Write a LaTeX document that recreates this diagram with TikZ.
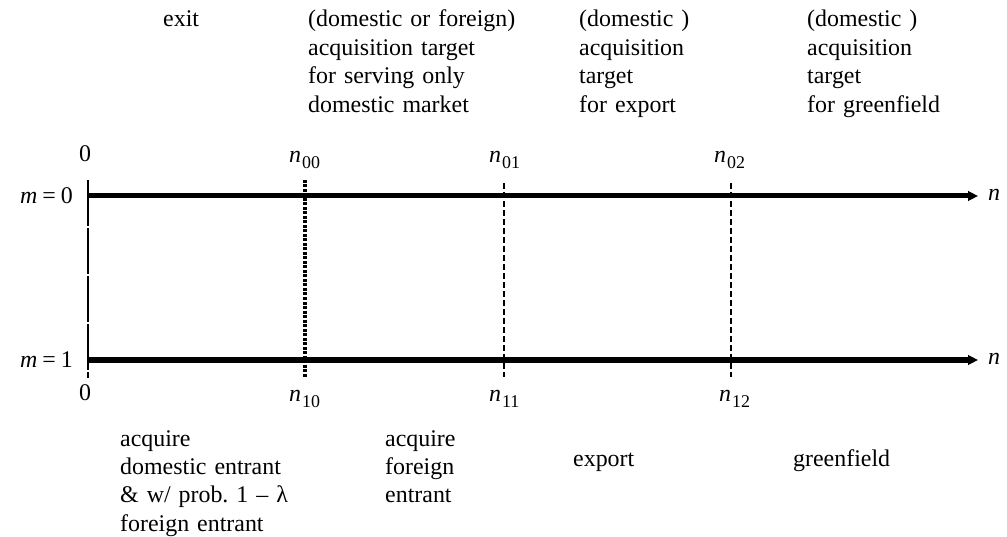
\documentclass[tikz,border=0pt]{standalone}
\usepackage{fontspec}
\setmainfont{Liberation Serif}
\usetikzlibrary{arrows.meta}
\tikzset{
  txt/.style={inner sep=0pt, font=\fontsize{24}{28.5}\selectfont},
  blk/.style={txt, anchor=base west, text width=260bp, align=left},
  lbl/.style={txt, anchor=base west},
  axis/.style={line width=5bp, -{Triangle[length=10bp,width=9.5bp]}},
  zeroline/.style={line width=1.4bp, dash pattern=on 46bp off 2bp},
  thickdash/.style={line width=4bp, dash pattern=on 3bp off 1.5bp},
  thindash/.style={line width=1.3bp, dash pattern=on 6bp off 3bp}
}
\newcommand{\nsub}[1]{\textit{n}\hspace{1bp}\raisebox{-6bp}{\fontsize{18}{18}\selectfont #1}}
\begin{document}
\begin{tikzpicture}[x=1bp,y=-1bp]
\useasboundingbox (0,0) rectangle (1007,537);
% coordinates
\coordinate (A0) at (88,196);
\coordinate (B0) at (978,196);
\coordinate (A1) at (88,360);
\coordinate (B1) at (978,360);
\coordinate (Z0) at (88,180);
\coordinate (Z1) at (88,378);
\coordinate (P0) at (305,180);
\coordinate (P1) at (305,377);
\coordinate (Q0) at (504,183);
\coordinate (Q1) at (504,377);
\coordinate (R0) at (731,183);
\coordinate (R1) at (731,377);
% vertical lines
\draw[zeroline] (Z0) -- (Z1);
\draw[thickdash] (P0) -- (P1);
\draw[thindash] (Q0) -- (Q1);
\draw[thindash] (R0) -- (R1);
% axes
\draw[axis] (A0) -- (B0);
\draw[axis] (A1) -- (B1);
% axis labels
\node[lbl] (m0) at (20,204) {\textit{m}\hspace{5bp}=\hspace{5bp}0};
\node[lbl] (m1) at (20,368) {\textit{m}\hspace{5bp}=\hspace{5bp}1};
\node[lbl] (nr0) at (988,201) {\textit{n}};
\node[lbl] (nr1) at (988,365) {\textit{n}};
\node[txt, anchor=base] (zt) at (85,162) {0};
\node[txt, anchor=base] (zb) at (85,400) {0};
\node[lbl] (n00) at (289,163) {\nsub{00}};
\node[lbl] (n01) at (489,163) {\nsub{01}};
\node[lbl] (n02) at (714,163) {\nsub{02}};
\node[lbl] (n10) at (289,401) {\nsub{10}};
\node[lbl] (n11) at (489,401) {\nsub{11}};
\node[lbl] (n12) at (719,401) {\nsub{12}};
% top texts
\node[lbl] (exit) at (163,27) {exit};
\node[blk] (t1) at (308,27) {(domestic or foreign)\\acquisition target\\for serving only\\domestic market};
\node[blk] (t2) at (579,27) {(domestic )\\acquisition\\target\\for export};
\node[blk] (t3) at (807,27) {(domestic )\\acquisition\\target\\for greenfield};
% bottom texts
\node[blk] (b1) at (120,446) {acquire\\domestic entrant\\\& w/ prob.\ 1 – λ\\foreign entrant};
\node[blk] (b2) at (385,446) {acquire\\foreign\\entrant};
\node[lbl] (b3) at (573,466) {export};
\node[lbl] (b4) at (793,466) {greenfield};
\end{tikzpicture}
\end{document}
